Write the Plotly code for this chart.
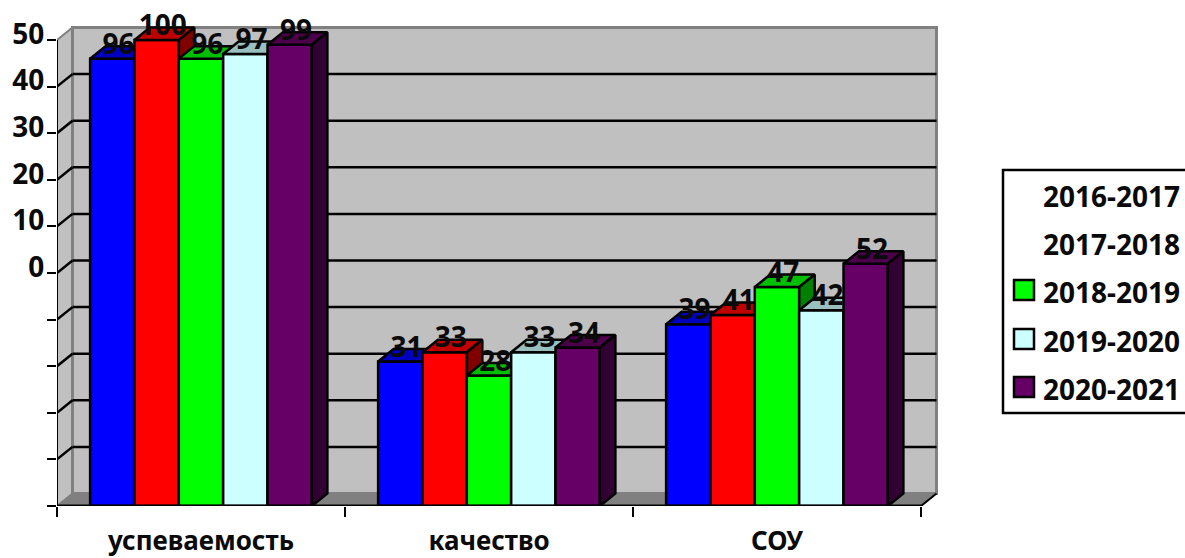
import plotly.graph_objects as go

categories = ["успеваемость", "качество", "СОУ"]
series_names = ["2016-2017", "2017-2018", "2018-2019", "2019-2020", "2020-2021"]
v_2016 = [96, 31, 39]
v_2017 = [100, 33, 41]
v_2018 = [96, 28, 47]
v_2019 = [97, 33, 42]
v_2020 = [99, 34, 52]
series_values = [v_2016, v_2017, v_2018, v_2019, v_2020]
front_colors = ["#0000FF", "#FF0000", "#00FF00", "#CCFFFF", "#660066"]
top_colors = ["#0000BF", "#BF0000", "#00BF00", "#99BFBF", "#4C004C"]
side_colors = ["#000080", "#800000", "#008000", "#668080", "#330033"]
legend_swatches = [None, None, "#00FF00", "#CCFFFF", "#660066"]
y_tick_values = [0, 10, 20, 30, 40, 50, 60, 70, 80, 90, 100]
y_tick_text = ["", "", "", "", "", "0", "10", "20", "30", "40", "50"]

W, H = 1185, 558
L, R, T, B = 57, 938, 26, 506          # plot area in pixels
PX_CAT = 288.0                         # pixels per category
PX_UNIT = 4.66                         # pixels per value unit
DX = 15.5 / PX_CAT                     # depth of the 3D effect in data units
DY = 12.5 / PX_UNIT
LABEL_UP = 12.0 / PX_UNIT
X0 = -0.5
X_RANGE = [X0, X0 + (R - L) / PX_CAT]
Y_RANGE = [0, (B - T) / PX_UNIT]
X_END = 2.5
Y_TOP = 100
BAR_W = 0.154
FONT = "Noto Sans"


def px_x(p):
    return (p - L) / (R - L)


def px_y(p):
    return (B - p) / (B - T)


def poly(pts):
    return "M " + " L ".join(f"{a} {b}" for a, b in pts) + " Z"


shapes = []
# side wall, back wall, floor
shapes.append(dict(type="path", layer="below", xref="x", yref="y", fillcolor="#C0C0C0",
                   line=dict(color="#808080", width=2),
                   path=poly([(X0, 0), (X0 + DX, DY), (X0 + DX, Y_TOP + DY), (X0, Y_TOP)])))
shapes.append(dict(type="rect", layer="below", xref="x", yref="y", fillcolor="#C0C0C0",
                   line=dict(color="#808080", width=3),
                   x0=X0 + DX, x1=X_END + DX, y0=DY, y1=Y_TOP + DY))
shapes.append(dict(type="path", layer="below", xref="x", yref="y", fillcolor="#808080",
                   line=dict(color="#808080", width=1),
                   path=poly([(X0, 0), (X0 + DX, DY), (X_END + DX, DY), (X_END, 0)])))
# gridlines on back and side walls
for v in y_tick_values[1:-1]:
    shapes.append(dict(type="line", layer="below", xref="x", yref="y",
                       x0=X0 + DX, x1=X_END + DX, y0=v + DY, y1=v + DY,
                       line=dict(color="black", width=2.5)))
for v in y_tick_values[1:-1]:
    shapes.append(dict(type="line", layer="below", xref="x", yref="y",
                       x0=X0, x1=X0 + DX, y0=v, y1=v + DY,
                       line=dict(color="black", width=2.5)))
# front axis lines
shapes.append(dict(type="line", layer="above", xref="x", yref="y", x0=X0, x1=X0, y0=0, y1=Y_TOP,
                   line=dict(color="black", width=2)))
shapes.append(dict(type="line", layer="above", xref="x", yref="y", x0=X0, x1=X_END, y0=0, y1=0,
                   line=dict(color="black", width=3)))
shapes.append(dict(type="line", layer="above", xref="x", yref="y", x0=X_END, x1=X_END + DX, y0=0, y1=DY,
                   line=dict(color="black", width=2)))

fig = go.Figure()
xs = list(range(len(categories)))
layout_axes = {}
for k, (name, vals) in enumerate(zip(series_names, series_values)):
    n = k + 2
    xa, ya = f"x{n}", f"y{n}"
    layout_axes[f"xaxis{n}"] = dict(overlaying="x", range=X_RANGE, visible=False, anchor=ya)
    layout_axes[f"yaxis{n}"] = dict(overlaying="y", range=Y_RANGE, visible=False, anchor=xa)
    offset = -BAR_W * 2.5 + k * BAR_W
    fig.add_trace(go.Bar(x=xs, y=vals, width=BAR_W, offset=offset, name=name, xaxis=xa, yaxis=ya,
                         marker=dict(color=front_colors[k], line=dict(color="black", width=2.5)),
                         cliponaxis=False, showlegend=False))
    for x, v in zip(xs, vals):
        left = x + offset
        right = left + BAR_W
        fig.add_trace(go.Scatter(
            x=[left, right, right + DX, left + DX, left],
            y=[v, v, v + DY, v + DY, v],
            mode="lines", fill="toself", fillcolor=top_colors[k], xaxis=xa, yaxis=ya,
            line=dict(color="black", width=2.5), showlegend=False, hoverinfo="skip"))
        fig.add_trace(go.Scatter(
            x=[right, right + DX, right + DX, right, right],
            y=[0, DY, v + DY, v, 0],
            mode="lines", fill="toself", fillcolor=side_colors[k], xaxis=xa, yaxis=ya,
            line=dict(color="black", width=2.5), showlegend=False, hoverinfo="skip"))
    fig.add_trace(go.Scatter(
        x=[x + offset + BAR_W / 2 + DX * 0.4 for x in xs],
        y=[v + LABEL_UP for v in vals],
        text=[str(v) for v in vals], mode="text", textposition="middle center",
        textfont=dict(family=FONT, size=28, color="#0a0a0a", weight="bold"),
        xaxis=xa, yaxis=ya, cliponaxis=False, showlegend=False, hoverinfo="skip"))

# legend box, drawn by hand because two of its keys have no swatch
LEG_L, LEG_T, LEG_B = 1003, 170, 413
shapes.append(dict(type="rect", layer="above", xref="paper", yref="paper",
                   x0=px_x(LEG_L), x1=px_x(W + 5), y0=px_y(LEG_B), y1=px_y(LEG_T),
                   line=dict(color="black", width=2.5), fillcolor="rgba(255,255,255,0)"))
row_y = [196, 244, 292, 341, 389]
annotations = []
for name, c, y, sw in zip(series_names, legend_swatches, row_y, [0, 0, 290, 339, 387]):
    annotations.append(dict(text=name, xref="paper", yref="paper", x=px_x(1041), y=px_y(y),
                            xanchor="left", yanchor="middle", showarrow=False,
                            font=dict(family=FONT, size=28, color="#0a0a0a", weight="bold")))
    if c:
        shapes.append(dict(type="rect", layer="above", xref="paper", yref="paper",
                           x0=px_x(1014), x1=px_x(1034), y0=px_y(sw + 10), y1=px_y(sw - 10),
                           fillcolor=c, line=dict(color="black", width=2.5)))

fig.update_layout(
    width=W, height=H, margin=dict(l=L, r=W - R, t=T, b=H - B, pad=0, autoexpand=False),
    paper_bgcolor="white", plot_bgcolor="white", showlegend=False,
    shapes=shapes, annotations=annotations,
    xaxis=dict(range=X_RANGE, tickmode="array", tickvals=xs, ticktext=categories, ticks="",
               showgrid=False, zeroline=False, showline=False, ticklabelstandoff=17,
               tickfont=dict(family=FONT, size=26, color="#0a0a0a", weight="bold"),
               minor=dict(tickmode="array", tickvals=[-0.5, 0.5, 1.5, 2.5], ticks="outside",
                          ticklen=10, tickwidth=2, tickcolor="black", showgrid=False)),
    yaxis=dict(range=Y_RANGE, tickmode="array", tickvals=y_tick_values, ticktext=y_tick_text,
               ticks="outside", ticklen=9, tickwidth=2, tickcolor="black", showgrid=False,
               zeroline=False, showline=False, ticklabelshift=-6, ticklabelstandoff=-3,
               tickfont=dict(family=FONT, size=28, color="#0a0a0a", weight="bold")),
    **layout_axes,
)
fig.write_html("out.html", config={"displayModeBar": False},
               post_script="document.body.style.margin='0';document.body.style.overflow='hidden';")
